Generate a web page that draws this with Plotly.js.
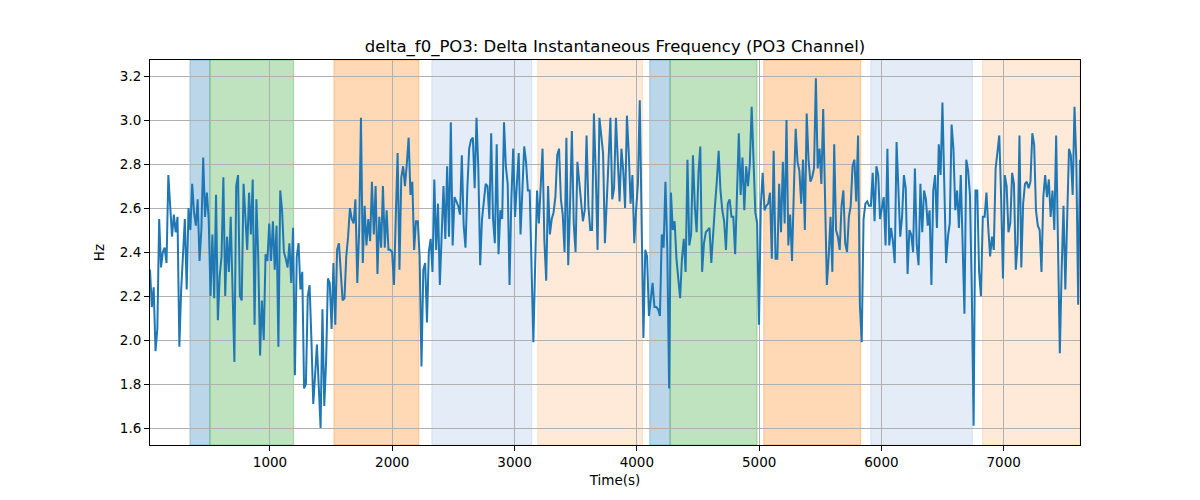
<!DOCTYPE html>
<html>
<head>
<meta charset="utf-8">
<script src="https://cdn.plot.ly/plotly-3.0.1.min.js"></script>
<style>html,body{margin:0;padding:0;background:#fff}#chart{width:1200px;height:500px}</style>
</head>
<body>
<div id="chart"></div>
<script>
// Time stamps (s)
const timeSec = [
19,34,49,64,79,94,109,124,139,154,
169,184,199,214,229,244,259,274,289,304,
319,334,349,364,379,394,409,424,439,454,
469,484,499,514,529,544,559,574,589,604,
619,634,649,664,679,694,709,724,739,754,
769,784,799,814,829,844,859,874,889,904,
919,934,949,964,979,994,1009,1024,1039,1054,
1069,1084,1099,1114,1129,1144,1159,1174,1189,1204,
1219,1234,1249,1264,1279,1294,1309,1324,1339,1354,
1369,1384,1399,1414,1429,1444,1459,1474,1489,1504,
1519,1534,1549,1564,1579,1594,1609,1624,1639,1654,
1669,1684,1699,1714,1729,1744,1759,1774,1789,1804,
1819,1834,1849,1864,1879,1894,1909,1924,1939,1954,
1969,1984,1999,2014,2029,2044,2059,2074,2089,2104,
2119,2134,2149,2164,2179,2194,2209,2224,2239,2254,
2269,2284,2299,2314,2329,2344,2359,2374,2389,2404,
2419,2434,2449,2464,2479,2494,2509,2524,2539,2554,
2569,2584,2599,2614,2629,2644,2659,2674,2689,2704,
2719,2734,2749,2764,2779,2794,2809,2824,2839,2854,
2869,2884,2899,2914,2929,2944,2959,2974,2989,3004,
3019,3034,3049,3064,3079,3094,3109,3124,3139,3154,
3169,3184,3199,3214,3229,3244,3259,3274,3289,3304,
3319,3334,3349,3364,3379,3394,3409,3424,3439,3454,
3469,3484,3499,3514,3529,3544,3559,3574,3589,3604,
3619,3634,3649,3664,3679,3694,3709,3724,3739,3754,
3769,3784,3799,3814,3829,3844,3859,3874,3889,3904,
3919,3934,3949,3964,3979,3994,4009,4024,4039,4054,
4069,4084,4099,4114,4129,4144,4159,4174,4189,4204,
4219,4234,4249,4264,4279,4294,4309,4324,4339,4354,
4369,4384,4399,4414,4429,4444,4459,4474,4489,4504,
4519,4534,4549,4564,4579,4594,4609,4624,4639,4654,
4669,4684,4699,4714,4729,4744,4759,4774,4789,4804,
4819,4834,4849,4864,4879,4894,4909,4924,4939,4954,
4969,4984,4999,5014,5029,5044,5059,5074,5089,5104,
5119,5134,5149,5164,5179,5194,5209,5224,5239,5254,
5269,5284,5299,5314,5329,5344,5359,5374,5389,5404,
5419,5434,5449,5464,5479,5494,5509,5524,5539,5554,
5569,5584,5599,5614,5629,5644,5659,5674,5689,5704,
5719,5734,5749,5764,5779,5794,5809,5824,5839,5854,
5869,5884,5899,5914,5929,5944,5959,5974,5989,6004,
6019,6034,6049,6064,6079,6094,6109,6124,6139,6154,
6169,6184,6199,6214,6229,6244,6259,6274,6289,6304,
6319,6334,6349,6364,6379,6394,6409,6424,6439,6454,
6469,6484,6499,6514,6529,6544,6559,6574,6589,6604,
6619,6634,6649,6664,6679,6694,6709,6724,6739,6754,
6769,6784,6799,6814,6829,6844,6859,6874,6889,6904,
6919,6934,6949,6964,6979,6994,7009,7024,7039,7054,
7069,7084,7099,7114,7129,7144,7159,7174,7189,7204,
7219,7234,7249,7264,7279,7294,7309,7324,7339,7354,
7369,7384,7399,7414,7429,7444,7459,7474,7489,7504,
7519,7534,7549,7564,7579,7594,7609,7624
];

// Delta instantaneous frequency (Hz)
const deltaF0 = [
2.32,2.15,2.24,1.95,2.05,2.55,2.33,2.40,2.42,2.35,
2.75,2.61,2.47,2.57,2.49,2.56,1.97,2.23,2.41,2.55,
2.23,2.60,2.50,2.71,2.58,2.52,2.64,2.36,2.50,2.83,
2.56,2.67,2.55,2.20,2.48,2.19,2.66,2.09,2.29,2.38,
2.74,2.20,2.47,2.31,2.56,2.23,1.90,2.70,2.75,2.20,
2.18,2.71,2.58,2.41,2.67,2.48,2.73,2.07,2.64,2.38,
1.93,2.18,2.00,2.39,2.36,2.53,2.36,2.54,2.32,2.52,
1.97,2.68,2.59,2.40,2.37,2.33,2.44,2.26,2.51,1.84,
2.38,2.44,2.23,2.31,1.78,1.80,2.20,2.25,2.00,1.71,
1.84,1.98,1.79,1.60,2.14,1.70,1.90,2.28,2.26,2.05,
2.35,2.07,2.41,2.44,2.31,2.18,2.19,2.38,2.47,2.60,
2.55,2.53,2.64,2.26,2.49,3.01,2.35,2.61,2.43,2.55,
2.45,2.72,2.48,2.70,2.30,2.56,2.42,2.70,2.42,
2.59,2.41,2.41,2.40,2.25,2.56,2.85,2.32,2.74,2.79,
2.70,2.80,2.92,2.66,2.72,2.41,2.54,2.54,2.38,1.88,
2.32,2.35,2.08,2.40,2.46,2.31,2.73,2.41,2.62,2.25,
2.50,2.70,2.46,2.79,2.47,2.99,2.43,2.65,2.63,2.61,
2.57,2.84,2.52,2.42,2.69,2.87,2.91,2.92,2.69,3.01,
2.78,2.34,2.55,2.65,2.71,2.70,2.55,2.94,2.55,2.44,
2.89,2.39,2.59,2.55,2.99,2.79,2.71,2.25,2.64,2.87,
2.56,2.71,2.85,2.48,2.69,2.88,2.81,2.68,2.68,2.37,
1.99,2.35,2.68,2.53,2.68,2.87,2.45,2.27,2.70,2.48,
2.55,2.58,2.65,2.84,2.87,2.64,2.57,2.40,2.92,2.34,
2.62,2.95,2.53,2.40,2.81,2.71,2.60,2.54,2.59,2.93,
2.61,2.50,2.50,3.03,2.76,2.41,3.01,2.91,2.85,2.44,
2.64,2.84,3.01,2.64,2.69,3.01,2.79,2.63,
2.87,2.77,2.60,3.02,2.85,2.62,2.75,2.44,2.59,2.71,
3.09,2.41,2.01,2.41,2.38,2.11,2.20,2.26,2.15,2.15,
2.14,2.11,2.48,2.42,2.72,2.42,1.78,2.67,2.50,2.54,
2.37,2.28,2.19,2.37,2.46,2.31,2.82,2.43,2.48,2.84,
2.61,2.49,2.76,2.88,2.31,2.44,2.49,2.50,2.51,2.35,
2.50,2.61,2.72,2.86,2.68,2.59,2.54,2.41,2.62,2.64,
2.56,2.56,2.39,2.71,2.94,2.66,2.83,2.59,2.79,2.70,
2.80,3.06,2.80,2.58,2.53,2.07,2.61,2.76,2.59,2.61,
2.62,2.67,2.37,2.86,2.37,2.37,2.71,2.49,2.81,2.53,
3.00,2.43,2.57,2.36,2.68,2.96,2.81,2.77,2.62,2.82,
2.50,3.03,2.82,2.72,2.74,2.78,3.19,2.78,2.87,2.71,
3.05,2.68,2.25,2.38,2.56,2.31,2.89,2.50,2.47,2.41,
2.61,2.68,2.44,2.40,2.56,2.61,2.79,2.82,
2.63,2.93,2.16,1.99,2.55,2.62,2.63,2.61,2.61,2.76,
2.54,2.79,2.75,2.55,2.60,2.65,2.43,2.87,2.43,2.51,
2.45,2.35,2.90,2.65,2.47,2.56,2.75,2.69,2.30,2.50,
2.48,2.40,2.78,2.43,2.34,2.71,2.49,2.68,2.64,2.52,
2.59,2.25,2.68,2.75,2.51,2.89,2.75,3.08,2.75,2.35,
2.47,2.53,2.98,2.87,2.59,2.68,2.51,2.75,2.44,2.12,
2.82,2.77,2.66,2.23,1.61,2.68,2.68,2.31,2.20,2.56,
2.56,2.67,2.51,2.38,2.47,2.41,2.78,2.86,2.93,2.65,
2.28,2.75,2.70,2.49,2.53,2.76,2.71,2.32,2.44,2.93,
2.33,2.62,2.71,2.72,2.69,2.72,2.94,2.89,2.59,2.52,
2.50,2.31,2.65,2.75,2.65,2.73,2.56,2.68,2.50,2.93,
2.49,1.94,2.32,2.61,2.23,2.56,2.87,2.84,2.66,3.06,
2.81,2.16,2.82
];

// Shaded phases (s)
const phaseStart = [346, 509, 1523, 2324, 3190, 4106, 4272, 5038, 5913, 6828];
const phaseEnd   = [509, 1193, 2218, 3141, 4046, 4272, 4983, 5831, 6744, 7624];
const phaseKind  = ['blue','green','orange','lightblue','lightorange','blue','green','orange','lightblue','lightorange'];

const yTicks = [1.6, 1.8, 2.0, 2.2, 2.4, 2.6, 2.8, 3.0, 3.2];
const xTicks = [1000, 2000, 3000, 4000, 5000, 6000, 7000];

const kindStyle = {
  blue:        {fill: 'rgba(31,119,180,0.30)', line: 'rgba(31,119,180,0.35)'},
  green:       {fill: 'rgba(44,160,44,0.30)',  line: 'rgba(44,160,44,0.35)'},
  orange:      {fill: 'rgba(255,127,14,0.30)', line: 'rgba(255,127,14,0.35)'},
  lightblue:   {fill: 'rgba(120,160,215,0.20)', line: 'rgba(120,160,215,0.22)'},
  lightorange: {fill: 'rgba(255,160,80,0.22)', line: 'rgba(255,160,80,0.25)'}
};

const n = Math.min(timeSec.length, deltaF0.length);
const shapes = phaseStart.map((s, i) => ({
  type: 'rect', xref: 'x', yref: 'paper', x0: s, x1: phaseEnd[i], y0: 0, y1: 1,
  fillcolor: kindStyle[phaseKind[i]].fill,
  line: {color: kindStyle[phaseKind[i]].line, width: 1},
  layer: 'below'
}));

const trace = {
  x: timeSec.slice(0, n), y: deltaF0.slice(0, n),
  type: 'scatter', mode: 'lines',
  line: {color: '#1f77b4', width: 2},
  hoverinfo: 'x+y'
};

const font = {family: 'DejaVu Sans, sans-serif', size: 13.5, color: '#000'};
const layout = {
  width: 1200, height: 500,
  margin: {l: 150, r: 120, t: 60, b: 55},
  paper_bgcolor: '#fff', plot_bgcolor: '#fff',
  font: font,
  showlegend: false,
  title: {text: 'delta_f0_PO3: Delta Instantaneous Frequency (PO3 Channel)',
          font: {family: 'DejaVu Sans, sans-serif', size: 16.5, color: '#000'},
          x: 0.5, xanchor: 'center', xref: 'paper', y: 0.908, yref: 'container', yanchor: 'middle'},
  xaxis: {
    range: [19, 7624], tickvals: xTicks, ticktext: xTicks.map(String),
    showgrid: true, gridcolor: '#b0b0b0', gridwidth: 1,
    showline: true, linecolor: '#000', linewidth: 1, mirror: true,
    ticks: 'outside', ticklen: 5, tickcolor: '#000', tickwidth: 1,
    zeroline: false, automargin: false,
    title: {text: 'Time(s)', font: font, standoff: 6}
  },
  yaxis: {
    range: [1.523, 3.273], tickvals: yTicks, ticktext: yTicks.map(v => v.toFixed(1)),
    showgrid: true, gridcolor: '#b0b0b0', gridwidth: 1,
    showline: true, linecolor: '#000', linewidth: 1, mirror: true,
    ticks: 'outside', ticklen: 5, tickcolor: '#000', tickwidth: 1,
    zeroline: false, automargin: false,
    title: {text: 'Hz', font: font, standoff: 12}
  },
  shapes: shapes
};

Plotly.newPlot('chart', [trace], layout, {displayModeBar: false, staticPlot: true});
</script>
</body>
</html>
